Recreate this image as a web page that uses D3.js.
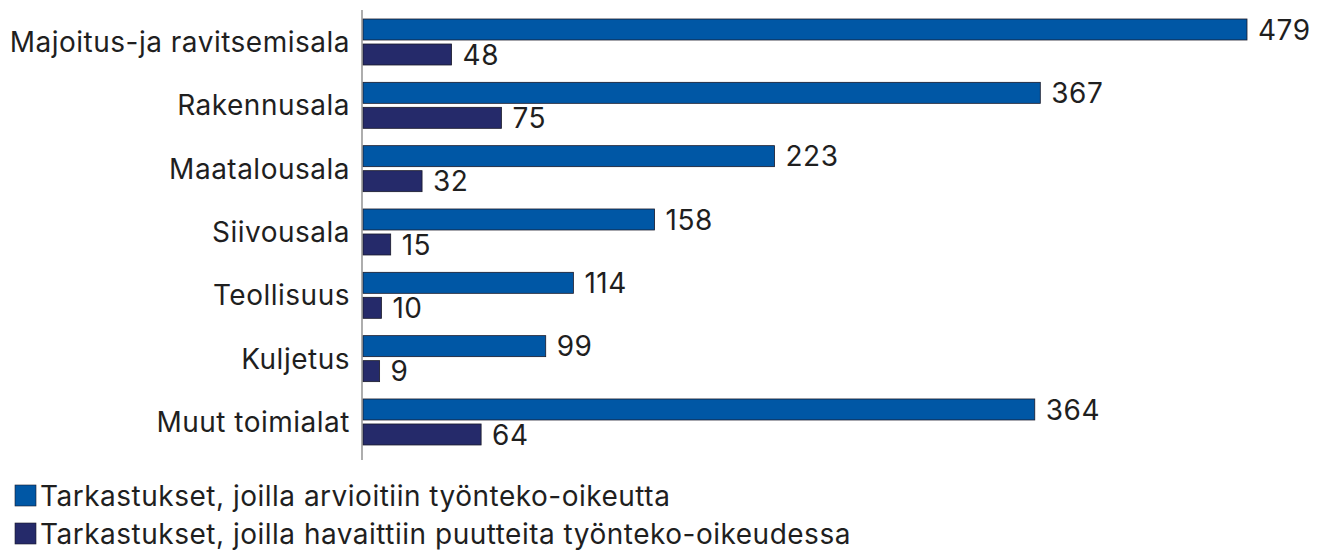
<!DOCTYPE html>
<html>
<head>
<meta charset="utf-8">
<script src="https://cdn.jsdelivr.net/npm/d3@7"></script>
<style>
  body { margin: 0; background: #fff; }
  text { font-family: Inter, "Noto Sans", sans-serif; fill: #1f1f1f; letter-spacing: 0.5px; }
</style>
</head>
<body>
<div id="chart"></div>
<script>
// data
var categories = ["Majoitus-ja ravitsemisala", "Rakennusala", "Maatalousala", "Siivousala", "Teollisuus", "Kuljetus", "Muut toimialat"];
var assessed = [479, 367, 223, 158, 114, 99, 364];
var deficient = [48, 75, 32, 15, 10, 9, 64];
var seriesNames = ["Tarkastukset, joilla arvioitiin työnteko-oikeutta", "Tarkastukset, joilla havaittiin puutteita työnteko-oikeudessa"];
var seriesColors = ["#0057a5", "#252a6a"];

var width = 1322, height = 551;
var margin = {top: 10, left: 363};
var fontSize = "28px";

var svg = d3.select("#chart").append("svg")
    .attr("width", width)
    .attr("height", height);

var xScale = d3.scaleLinear()
    .domain([0, 479])
    .range([margin.left, 1247]);

var yScale = d3.scaleBand()
    .domain(categories)
    .range([margin.top + 5, margin.top + 5 + 63.33 * categories.length]);

var barH = 21;
var series = [assessed, deficient];

series.forEach(function(vals, s) {
    var g = svg.append("g");
    g.selectAll("rect")
        .data(categories)
        .enter().append("rect")
        .attr("x", xScale(0))
        .attr("y", function(d) { return yScale(d) + 4 + s * 25; })
        .attr("width", function(d, i) { return xScale(vals[i]) - xScale(0); })
        .attr("height", barH)
        .attr("fill", seriesColors[s])
        .attr("stroke", "#1a1a2a")
        .attr("stroke-width", 0.8);

    g.selectAll("text")
        .data(categories)
        .enter().append("text")
        .attr("x", function(d, i) { return xScale(vals[i]) + 11; })
        .attr("y", function(d) { return yScale(d) + 4 + s * 25 + barH / 2; })
        .attr("dy", "0.36em")
        .style("font-size", fontSize)
        .text(function(d, i) { return vals[i]; });
});

// category labels
svg.append("g").selectAll("text")
    .data(categories)
    .enter().append("text")
    .attr("x", margin.left - 13)
    .attr("y", function(d) { return yScale(d) + 4 + 23; })
    .attr("dy", "0.36em")
    .attr("text-anchor", "end")
    .style("font-size", fontSize)
    .text(function(d) { return d; });

// axis line
svg.append("line")
    .attr("x1", margin.left - 1).attr("x2", margin.left - 1)
    .attr("y1", 10).attr("y2", 460)
    .attr("stroke", "#777")
    .attr("stroke-width", 1.2);

// legend
var legend = svg.append("g").selectAll("g")
    .data(seriesNames)
    .enter().append("g")
    .attr("transform", function(d, i) { return "translate(15," + (485 + i * 38) + ")"; });

legend.append("rect")
    .attr("width", 21).attr("height", 21)
    .attr("fill", function(d, i) { return seriesColors[i]; })
    .attr("stroke", "#1a1a2a")
    .attr("stroke-width", 0.6);

legend.append("text")
    .attr("x", 25)
    .attr("y", 11)
    .attr("dy", "0.36em")
    .style("font-size", fontSize)
    .text(function(d) { return d; });
</script>
</body>
</html>
